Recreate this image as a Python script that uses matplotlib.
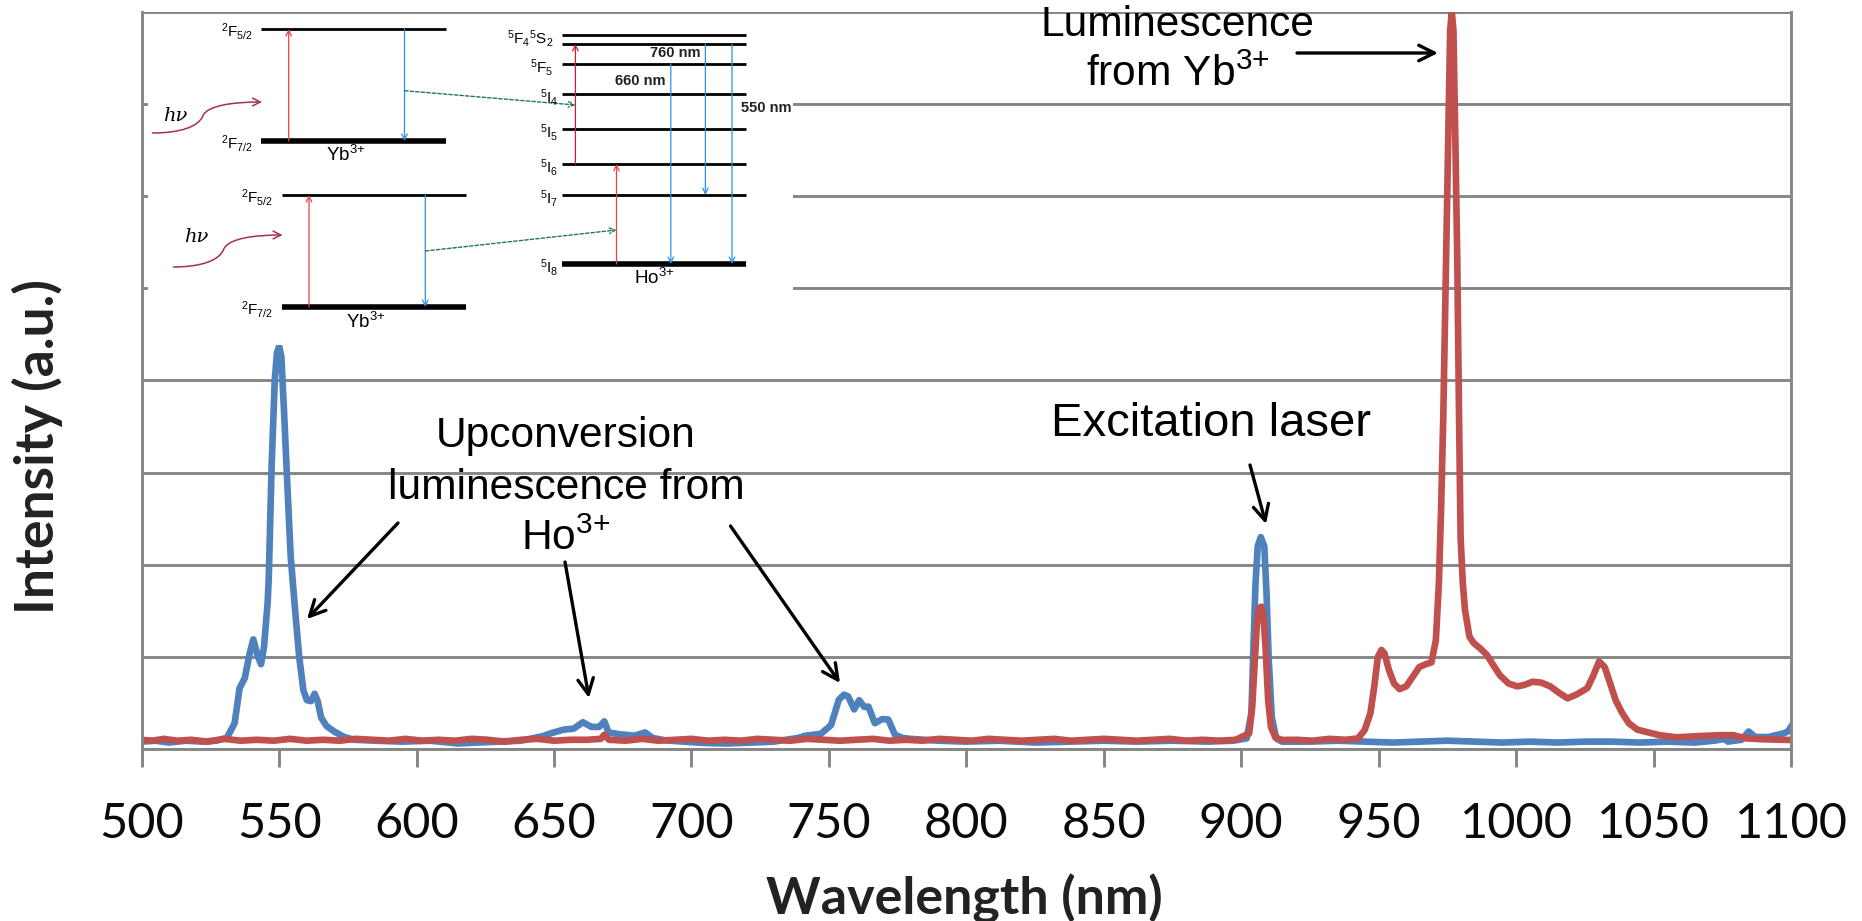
import matplotlib
matplotlib.use("Agg")
import matplotlib.pyplot as plt
from matplotlib.patches import FancyArrowPatch, Rectangle
from matplotlib.path import Path

plt.rcParams["font.family"] = "Liberation Sans"
plt.rcParams["mathtext.fontset"] = "custom"
plt.rcParams["mathtext.rm"] = "Liberation Sans"
plt.rcParams["mathtext.it"] = "Liberation Sans:italic"
plt.rcParams["mathtext.bf"] = "Liberation Sans:bold"

# values, y in gridline units
blue_nm = [500, 505, 510, 516, 522, 527, 531, 533.8, 535.6, 537.5, 539.3, 540.6, 542.1, 543.4, 544.5, 545.8,
           546.2, 547.3, 548.4, 549.2, 550, 550.8, 551.8, 552.9, 554.2, 556, 557.3, 558.8, 560.1, 561.6,
           562.9, 564, 565.3, 567.2, 570, 573.7, 577.4, 585, 595, 605, 615, 622, 630, 638, 646, 648.8,
           653.4, 657.1, 660.5, 663.6, 666.4, 668.3, 669.8, 673.8, 679.4, 683.1, 685.9, 690.5, 697, 705,
           713, 722, 730, 738.8, 741.6, 747.1, 750.8, 753.6, 755.5, 757, 759.2, 761, 762.9, 764.4, 766.7,
           769.4, 771.6, 774, 776.8, 779.6, 790, 800, 812, 825, 838, 850, 862, 875, 888, 897, 902, 903.7,
           904.4, 905.2, 906, 907.1, 908.4, 909.2, 910, 911.1, 912.7, 914.8, 925, 935, 945, 955, 965, 975,
           985, 995, 1005, 1015, 1025, 1035, 1045, 1055, 1065, 1072, 1075.9, 1077, 1082, 1084.6, 1087,
           1091.8, 1097.3, 1098.9, 1100]
blue_val = [0.08, 0.09, 0.07, 0.09, 0.08, 0.09, 0.12, 0.28, 0.66, 0.77, 1.04, 1.19, 1.02, 0.92, 1.11, 1.585,
            1.84, 3.1, 4.0, 4.3, 4.37, 4.26, 3.65, 2.92, 2.09, 1.44, 1.0, 0.64, 0.53, 0.52,
            0.6, 0.52, 0.34, 0.25, 0.19, 0.13, 0.1, 0.09, 0.08, 0.09, 0.06, 0.07, 0.08, 0.09, 0.14, 0.17,
            0.21, 0.22, 0.29, 0.24, 0.24, 0.30, 0.18, 0.16, 0.145, 0.18, 0.12, 0.094, 0.08, 0.065,
            0.06, 0.07, 0.08, 0.12, 0.145, 0.165, 0.26, 0.535, 0.59, 0.57, 0.43, 0.53, 0.456, 0.46, 0.28,
            0.325, 0.32, 0.155, 0.12, 0.11, 0.09, 0.08, 0.09, 0.07, 0.08, 0.09, 0.08, 0.09, 0.08, 0.09, 0.115, 0.39,
            1.07, 1.8, 2.2, 2.3, 2.2, 1.69, 0.97, 0.35, 0.115, 0.08, 0.08, 0.09, 0.08, 0.07, 0.08, 0.09,
            0.08, 0.07, 0.08, 0.07, 0.08, 0.08, 0.07, 0.08, 0.07, 0.09, 0.11, 0.08, 0.10, 0.19, 0.13,
            0.13, 0.17, 0.19, 0.24]

red_nm = [500, 504, 508, 513, 518, 524, 530, 536, 542, 548, 554, 560, 566, 572, 578, 584, 590, 596, 602, 608,
          614, 620, 626, 632, 638, 644, 650, 656, 662, 667, 668.3, 670, 676, 682, 688, 694, 700, 706, 712,
          718, 724, 730, 736, 742, 748, 754, 760, 766, 772, 778, 784, 790, 796, 802, 808, 814, 820, 826,
          832, 838, 844, 850, 856, 862, 868, 874, 880, 886, 892, 898, 902.9, 904, 904.8, 905.7, 906.5, 907.3,
          908.1, 908.9, 909.8, 910.8, 912.4, 914.8, 920, 926, 932, 938, 942.5, 944.9, 947, 948.4, 949.7,
          951, 952.1, 953.7, 955.6, 957.6, 960, 962.4, 964.8, 967.1, 969.2, 970.8, 971.9, 972.7, 973.5,
          974.5, 975.3, 976, 976.6, 977.2, 977.9, 978.6, 979.2, 979.8, 980.6, 981.4, 983, 984.6, 987, 989.4,
          991.7, 994.1, 997.3, 1000.5, 1002.9, 1006, 1009.2, 1012.4, 1015.6, 1018.7, 1021.9, 1025.9, 1027.9,
          1030.2, 1032.2, 1033.8, 1036.2, 1038.6, 1041, 1044.1, 1048.1, 1052.1, 1058.4, 1066.3, 1074.3,
          1079, 1083.8, 1090.2, 1100]
red_val = [0.10, 0.09, 0.11, 0.09, 0.10, 0.08, 0.11, 0.09, 0.10, 0.09, 0.11, 0.09, 0.10, 0.09, 0.11, 0.10, 0.09, 0.11, 0.09, 0.10,
           0.09, 0.11, 0.10, 0.08, 0.10, 0.11, 0.09, 0.10, 0.10, 0.11, 0.155, 0.10, 0.09, 0.11, 0.09, 0.10, 0.11, 0.09, 0.10,
           0.09, 0.11, 0.10, 0.09, 0.11, 0.10, 0.09, 0.10, 0.11, 0.09, 0.10, 0.09, 0.11, 0.10, 0.09, 0.11, 0.10, 0.09, 0.10,
           0.11, 0.09, 0.10, 0.11, 0.10, 0.09, 0.10, 0.11, 0.09, 0.10, 0.09, 0.10, 0.17, 0.46, 0.89, 1.36, 1.53, 1.545,
           1.44, 1.07, 0.53, 0.24, 0.127, 0.098, 0.10, 0.09, 0.11, 0.10, 0.115, 0.206, 0.39, 0.68, 1.0,
           1.075, 1.04, 0.86, 0.71, 0.65, 0.68, 0.785, 0.89, 0.92, 0.94, 1.18, 1.8, 2.6, 3.6,
           5.3, 6.6, 7.8, 8.0, 7.8, 6.6, 5.3, 3.7, 2.3, 1.8, 1.51, 1.22, 1.15, 1.09, 1.02,
           0.91, 0.80, 0.71, 0.68, 0.695, 0.73, 0.72, 0.68, 0.61, 0.55, 0.59, 0.66, 0.785,
           0.95, 0.89, 0.75, 0.53, 0.39, 0.28, 0.21, 0.18, 0.15, 0.127, 0.14, 0.15,
           0.15, 0.115, 0.105, 0.098]

x_ticks = list(range(500, 1101, 50))

# energy levels of the inset, in figure pixels
yb_levels = [29, 141]
yb_low_levels = [195, 307]
ho_levels = [35, 44, 64, 94, 129, 164, 195, 264]
ho_labels = ["$^{5}$F$_{4}$$^{5}$S$_{2}$", "", "$^{5}$F$_{5}$", "$^{5}$I$_{4}$", "$^{5}$I$_{5}$",
             "$^{5}$I$_{6}$", "$^{5}$I$_{7}$", "$^{5}$I$_{8}$"]

GREY = "#868686"
BLUE = "#4F81BD"
RED = "#C0504D"

fig = plt.figure(figsize=(18.62, 9.21), dpi=100)
ax = fig.add_axes([141.7 / 1862, 1 - 749 / 921, (1791 - 141.7) / 1862, (749 - 12) / 921])

ax.grid(axis="y", color=GREY, lw=2.1)
ax.set_axisbelow(True)
ax.plot(blue_nm, blue_val, color=BLUE, lw=4.8, solid_joinstyle="round")
ax.plot(red_nm, red_val, color=RED, lw=4.8, solid_joinstyle="round")
ax.set_xlim(500, 1100)
ax.set_ylim(0, 8)
ax.set_xticks(x_ticks)
ax.set_yticks(range(9))
ax.tick_params(axis="x", length=13, width=2.1, color=GREY, labelsize=35, pad=25, labelcolor="#0a0a0a")
ax.tick_params(axis="y", length=0, labelleft=False)
for label in ax.get_xticklabels():
    label.set_fontfamily("Lato")
for s in ax.spines.values():
    s.set_color(GREY)
    s.set_linewidth(2.1)
ax.spines["top"].set_visible(False)

fig.text(964 / 1862, 1 - 899 / 921, "Wavelength (nm)", family="Lato", weight="bold", fontsize=37.5,
         ha="center", va="center", color="#222222")
fig.text(37 / 1862, 1 - 446 / 921, "Intensity (a.u.)", family="Lato", weight="bold", fontsize=38.5,
         rotation=90, ha="center", va="center", color="#222222")

# overlay in pixel coordinates for the inset and the hand drawn arrows
ov = fig.add_axes([0, 0, 1, 1])
ov.set_xlim(0, 1862)
ov.set_ylim(921, 0)
ov.axis("off")
ov.patch.set_alpha(0)


def arrow(x0, y0, x1, y1, color="k", lw=2.4, size=28, ls="-", z=5):
    ov.add_patch(FancyArrowPatch((x0, y0), (x1, y1), arrowstyle="->", mutation_scale=size, color=color,
                                 lw=lw, ls=ls, shrinkA=0, shrinkB=0, zorder=z))


def level(x0, x1, y, lw=2):
    ov.plot([x0, x1], [y, y], color="k", lw=lw, solid_capstyle="butt", zorder=4)


def curl(x0, y0, x1, y1):
    dx, dy = x1 - x0, y1 - y0
    verts = [(x0, y0), (x0 + 0.25 * dx, y0), (x0 + 0.42 * dx, y0 + 0.2 * dy), (x0 + 0.46 * dx, y0 + 0.55 * dy),
             (x0 + 0.5 * dx, y0 + 0.9 * dy), (x0 + 0.75 * dx, y1), (x1, y1)]
    codes = [Path.MOVETO] + [Path.CURVE4] * 6
    ov.add_patch(FancyArrowPatch(path=Path(verts, codes), arrowstyle="->", mutation_scale=14, color="#A5324A",
                                 lw=1.1, zorder=5))


ov.add_patch(Rectangle((148, 16), 645, 329, fc="white", ec="none", zorder=2))


def yb_block(x0, levels, red_x, blue_x, label_x, hv_xy, curl_xy, green, yb_xy):
    top, bottom = levels
    level(x0, x0 + 184.5, top, lw=2)
    level(x0, x0 + 184.5, bottom, lw=4)
    arrow(red_x, bottom, red_x, top, color="#E8434A", lw=0.9, size=10)
    arrow(blue_x, top, blue_x, bottom, color="#2F8FE8", lw=0.9, size=10)
    arrow(*green, color="#1F7A5C", lw=1.0, size=10, ls=(0, (2.5, 1.5)))
    curl(*curl_xy)
    ov.text(*hv_xy, "hν", family="DejaVu Serif", style="italic", fontsize=14, ha="center", va="center", zorder=5)
    ov.text(label_x, top + 2, "$^{2}$F$_{5/2}$", fontsize=11, ha="right", va="center", zorder=5)
    ov.text(label_x, bottom + 2, "$^{2}$F$_{7/2}$", fontsize=11, ha="right", va="center", zorder=5)
    ov.text(*yb_xy, "Yb$^{3{+}}$", fontsize=13.5, ha="center", va="center", zorder=5)


yb_block(261.4, yb_levels, 288.7, 404.5, 253, (175.5, 116), (152.5, 133, 262, 102),
         (404.5, 90.7, 575.4, 105), (345.5, 155))
yb_block(281.8, yb_low_levels, 309, 425.3, 273, (196, 237), (173.4, 267, 282.6, 235),
         (425.3, 251, 616.5, 230), (366, 322))

for i, (y, name) in enumerate(zip(ho_levels, ho_labels)):
    level(562, 745.8, y, lw=4 if i == len(ho_levels) - 1 else 2)
    ov.text(558 if i > 2 else 553, y + 3, name, fontsize=11, ha="right", va="center", zorder=5)
ov.text(654, 278, "Ho$^{3{+}}$", fontsize=13.5, ha="center", va="center", zorder=5)

arrow(575.4, 164, 575.4, 44, color="#C8222E", lw=0.9, size=10)
arrow(616.5, 264, 616.5, 164, color="#E8434A", lw=0.9, size=10)
arrow(670.8, 64, 670.8, 264, color="#2F8FE8", lw=0.9, size=10)
arrow(705.4, 44, 705.4, 195, color="#2F8FE8", lw=0.9, size=10)
arrow(732, 44, 732, 264, color="#2F8FE8", lw=0.9, size=10)
ov.text(675.5, 53, "760 nm", fontsize=10.5, weight="bold", color="#222222", ha="center", va="center", zorder=5)
ov.text(640, 81, "660 nm", fontsize=10.5, weight="bold", color="#222222", ha="center", va="center", zorder=5)
ov.text(766, 108, "550 nm", fontsize=10.5, weight="bold", color="#222222", ha="center", va="center", zorder=5)

# callouts
for y, line in zip([436, 488, 539], ["Upconversion", "luminescence from", "Ho$^{3{+}}$"]):
    ov.text(566, y, line, fontsize=30.6, ha="center", va="center", color="k", zorder=6)
ov.text(1211, 424, "Excitation laser", fontsize=34, ha="center", va="center", color="k", zorder=6)
ov.text(1178, 25, "Luminescence", fontsize=30.6, ha="center", va="center", color="k", zorder=6)
ov.text(1178, 75, "from Yb$^{3{+}}$", fontsize=30.6, ha="center", va="center", color="k", zorder=6)

arrow(398, 523, 307, 619)
arrow(565, 562, 589, 698)
arrow(730.5, 526, 840, 683)
arrow(1250, 465, 1266, 524)
arrow(1297, 53, 1438, 53)

fig.savefig("out.png", dpi=100)
